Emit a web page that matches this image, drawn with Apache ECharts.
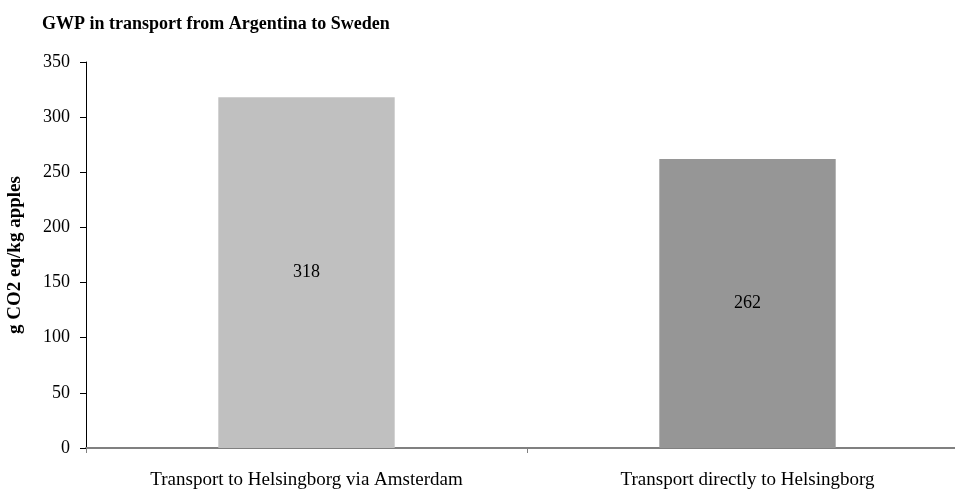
<!DOCTYPE html>
<html>
<head>
<meta charset="utf-8">
<script src="https://cdn.jsdelivr.net/npm/echarts@6/dist/echarts.min.js"></script>
<style>
  html, body { margin: 0; padding: 0; background: #fff; }
  #main { width: 955px; height: 493px; }
</style>
</head>
<body>
<div id="main"></div>
<script>
// 数据
var categories = ['Transport to Helsingborg via Amsterdam', 'Transport directly to Helsingborg']
var values = [318, 262]
var barColors = ['#c0c0c0', '#969696']

var myChart = echarts.init(document.getElementById('main'))
var font = '"Liberation Serif", "Times New Roman", serif'
var option = {
  animation: false,
  textStyle: { fontFamily: font },
  title: {
    text: 'GWP in transport from Argentina to Sweden',
    left: 37,
    top: 10,
    textStyle: {
      fontFamily: font,
      fontSize: 18,
      fontWeight: 'bold',
      color: '#000'
    }
  },
  // 网格向右延伸出画布
  grid: {
    left: 86,
    width: 882,
    top: 62,
    bottom: 45,
    outerBoundsMode: 'none'
  },
  xAxis: {
    type: 'category',
    data: categories,
    axisLine: { lineStyle: { color: '#808080', width: 2 } },
    axisTick: { show: true, length: 5, lineStyle: { color: '#808080' } },
    axisLabel: {
      color: '#000',
      fontFamily: font,
      fontSize: 19,
      margin: 23
    }
  },
  yAxis: {
    type: 'value',
    min: 0,
    max: 350,
    interval: 50,
    name: 'g CO2 eq/kg apples',
    nameLocation: 'middle',
    nameGap: 61,
    nameTextStyle: {
      fontFamily: font,
      fontSize: 19,
      fontWeight: 'bold',
      color: '#000'
    },
    axisLine: { show: true, lineStyle: { color: '#000', width: 1 } },
    axisTick: { show: true, length: 6, lineStyle: { color: '#000' } },
    axisLabel: {
      color: '#000',
      fontFamily: font,
      fontSize: 18,
      margin: 16
    },
    splitLine: { show: false }
  },
  series: [
    {
      type: 'bar',
      barWidth: '40%',
      data: values.map(function (v, i) {
        return { value: v, itemStyle: { color: barColors[i] } }
      }),
      label: {
        show: true,
        position: 'inside',
        color: '#000',
        fontFamily: font,
        fontSize: 18
      }
    }
  ]
}
myChart.setOption(option)
window.addEventListener('resize', function () {
  myChart.resize()
})
</script>
</body>
</html>
